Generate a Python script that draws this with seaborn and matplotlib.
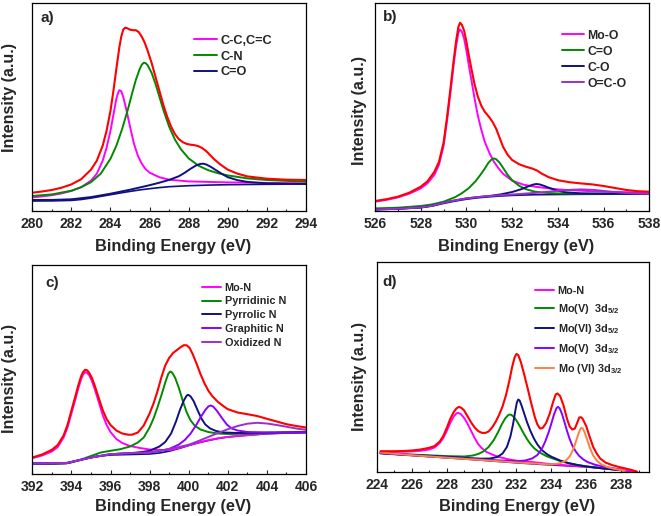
import matplotlib
matplotlib.use("Agg")
import matplotlib.pyplot as plt
import seaborn as sns
import pandas as pd
from matplotlib.ticker import MultipleLocator

# intensities (arbitrary units, height above the frame)

# a) C 1s
A_ENVELOPE = [(280, 18), (280.5, 19.2), (281, 20.7), (281.5, 23), (282, 26.3), (282.5, 31.5), (283, 41),
              (283.3, 50), (283.6, 65), (283.8, 80), (284, 100), (284.15, 120), (284.3, 142), (284.45, 163),
              (284.55, 174), (284.65, 181), (284.75, 183), (284.85, 182.5), (285, 181), (285.15, 180.5),
              (285.3, 180.5), (285.45, 178.5), (285.6, 174), (285.75, 168), (285.9, 160), (286.1, 148),
              (286.3, 134), (286.5, 120), (286.7, 106), (286.9, 94), (287.1, 84), (287.3, 76.5), (287.5, 71.5),
              (287.7, 68.5), (287.9, 66.8), (288.1, 66), (288.3, 65.5), (288.5, 64.5), (288.7, 62.5),
              (288.9, 59.5), (289.1, 55.5), (289.3, 51.5), (289.6, 46.5), (290, 41), (290.5, 37), (291, 34.3),
              (292, 32), (293, 31), (294, 30.7)]
A_CC = [(280, 13.3), (280.5, 14.3), (281, 15.5), (281.5, 17.3), (282, 19.8), (282.5, 23.5), (283, 30),
        (283.3, 37), (283.6, 50), (283.8, 63), (284, 80), (284.15, 96), (284.3, 112), (284.4, 118.5),
        (284.45, 120.5), (284.55, 119.5), (284.65, 114), (284.8, 102), (285, 84), (285.2, 67), (285.4, 55),
        (285.6, 47), (285.8, 41.5), (286, 38), (286.5, 33.5), (287, 31), (288, 29.3), (290, 28.3), (294, 27.3)]
A_CN = [(280, 14.7), (281, 16.3), (282, 20), (282.5, 23.5), (283, 28.5), (283.5, 37), (284, 52), (284.3, 65),
        (284.6, 82), (284.9, 102), (285.1, 117), (285.3, 131), (285.5, 142), (285.6, 146), (285.7, 148),
        (285.8, 147.5), (285.9, 145.5), (286.1, 138), (286.3, 127), (286.5, 114), (286.7, 101), (287, 84),
        (287.3, 71), (287.6, 61.5), (288, 52.3), (288.5, 45), (289, 40.5), (289.5, 37.5), (290, 35.3),
        (291, 32.3), (292, 30.7), (294, 29)]
A_CO = [(280, 10.7), (281, 10.8), (282, 11.4), (283, 13.6), (284, 17), (285, 21), (286, 25.5), (286.5, 28),
        (287, 30.8), (287.5, 34.5), (287.8, 38), (288.1, 42), (288.4, 45.5), (288.6, 46.8), (288.75, 47),
        (288.9, 46.2), (289.1, 44.2), (289.4, 40.5), (289.7, 36.8), (290, 33.5), (290.5, 30.5), (291, 28.8),
        (292, 27.3), (294, 26.7)]
A_BASE = [(280, 9.7), (281, 9.8), (282, 10.3), (282.5, 11.2), (283, 12.6), (283.5, 14.3), (284, 16),
          (284.5, 17.7), (285, 19.3), (285.5, 20.8), (286, 22), (286.5, 23.1), (287, 24), (288, 25),
          (289, 25.6), (290, 26), (292, 26.4), (294, 26.7)]

# b) O 1s
B_ENVELOPE = [(526, 9.7), (526.5, 11.5), (527, 14), (527.5, 18), (528, 24), (528.3, 29.5), (528.6, 39),
              (528.8, 49), (529, 68), (529.15, 93), (529.3, 122), (529.45, 152), (529.55, 170), (529.65, 184),
              (529.72, 188), (529.8, 186), (529.9, 180), (530, 169), (530.1, 156), (530.2, 144), (530.35, 127),
              (530.5, 114), (530.65, 105), (530.8, 99), (531, 93.5), (531.15, 88.5), (531.3, 82), (531.45, 73),
              (531.6, 64), (531.8, 56), (532, 50.7), (532.3, 46.5), (532.6, 44), (532.9, 42), (533.1, 40),
              (533.3, 37), (533.6, 33.5), (534, 30.5), (534.5, 28.5), (535, 27.3), (535.5, 26.3), (536, 24.7),
              (536.5, 22.7), (537, 20.7), (537.5, 19.5), (538, 19)]
B_MOO = [(526, 9), (526.5, 10.8), (527, 13.3), (527.5, 17), (528, 22.3), (528.3, 27.5), (528.6, 36),
         (528.8, 46), (529, 65), (529.15, 90), (529.3, 118), (529.45, 148), (529.55, 165), (529.65, 178),
         (529.72, 181.3), (529.8, 179), (529.9, 172), (530, 160), (530.1, 146), (530.2, 133), (530.35, 113),
         (530.5, 95), (530.65, 81), (530.8, 69), (531, 58), (531.2, 49), (531.4, 42.5), (531.6, 37), (532, 30),
         (532.5, 26), (533, 24), (534, 21.3), (535, 20), (536, 19), (538, 18)]
B_C_DO = [(526, 2.3), (527, 3), (528, 4.7), (528.5, 6.3), (529, 9), (529.5, 13.5), (529.8, 17.5), (530.1, 22.5),
          (530.4, 29.5), (530.6, 35.5), (530.8, 42), (530.95, 47.5), (531.1, 51.3), (531.2, 52.3), (531.3, 51.5),
          (531.45, 48), (531.6, 43), (531.8, 36), (532, 30.5), (532.3, 25), (532.6, 21.5), (533, 19),
          (533.5, 17.8), (534, 17.3), (538, 16.7)]
B_C_O = [(526, 1.3), (527, 2), (528, 3.3), (528.5, 5), (529, 8), (529.5, 10.3), (530, 12.3), (530.5, 13.6),
         (531, 14.7), (531.5, 16.3), (532, 18.7), (532.4, 21.5), (532.7, 24.3), (532.9, 26), (533.05, 26.7),
         (533.2, 26.3), (533.4, 24.8), (533.6, 23), (533.9, 20.5), (534.3, 18.5), (535, 17.3), (536, 16.9),
         (538, 16.7)]
B_OCO = [(526, 1.3), (527, 2), (528, 3.3), (528.5, 5), (529, 8), (529.5, 10.3), (530, 12.2), (530.5, 13.6),
         (531, 14.6), (531.5, 15.5), (532, 16.2), (532.5, 17), (533, 17.8), (533.5, 18.8), (534, 19.9),
         (534.5, 20.8), (535, 21.3), (535.5, 20.9), (536, 19.8), (536.5, 18.5), (537, 17.6), (538, 16.8)]
B_BASE = [(526, 1), (527, 1.7), (528, 3), (528.5, 4.7), (529, 7.3), (529.5, 9.6), (530, 11.5), (530.5, 12.9),
          (531, 13.9), (531.5, 14.7), (532, 15.3), (533, 16), (535, 16.4), (538, 16.7)]

# c) N 1s
C_ENVELOPE = [(392, 16), (392.5, 19), (393, 23.7), (393.3, 28.5), (393.6, 38), (393.8, 48.5), (394, 63),
              (394.2, 77), (394.35, 88), (394.5, 97.5), (394.6, 101.5), (394.7, 103.7), (394.8, 103.3),
              (394.9, 101), (395.05, 95.5), (395.2, 87.5), (395.4, 75.5), (395.6, 63.5), (395.8, 54.5),
              (396, 48.5), (396.3, 43), (396.6, 40), (396.9, 38.8), (397.1, 38.8), (397.4, 41), (397.7, 48),
              (398, 60), (398.2, 70), (398.4, 82), (398.6, 96), (398.8, 108), (399, 115.5), (399.2, 120.5),
              (399.4, 123.5), (399.6, 126.5), (399.75, 128.3), (399.9, 128.2), (400.05, 125.5), (400.2, 119.5),
              (400.4, 110), (400.6, 99.5), (400.8, 90.5), (401, 83), (401.2, 77.5), (401.5, 71.5), (401.8, 67),
              (402, 64.3), (402.5, 61), (403, 59.3), (403.5, 57.5), (404, 54.7), (404.5, 52), (405, 49.3),
              (405.5, 47.5), (406, 46)]
C_MON = [(392, 15.3), (392.5, 18), (393, 22), (393.3, 26.5), (393.6, 36), (393.8, 46), (394, 60), (394.2, 74),
         (394.35, 85), (394.5, 94.5), (394.6, 99), (394.7, 101.3), (394.8, 100.8), (394.9, 98.5), (395.05, 92.5),
         (395.2, 84), (395.4, 71.5), (395.6, 58.5), (395.8, 48.5), (396, 41.5), (396.3, 34.5), (396.6, 30.5),
         (397, 27.5), (397.5, 25.5), (398, 24), (399, 23.3), (399.5, 25.5), (400, 28.3), (400.5, 31),
         (401, 33.3), (401.5, 35.2), (402, 36.6), (403, 38.3), (404, 40), (405, 40.7), (406, 41)]
C_PYRIDINIC = [(392, 10), (393, 10), (393.8, 10.6), (394.5, 14), (395, 17.5), (395.5, 21), (396, 22.7),
               (396.5, 24.3), (397, 27), (397.4, 31), (397.7, 36), (398, 46), (398.2, 55), (398.4, 66),
               (398.6, 78), (398.8, 91), (398.95, 99.5), (399.05, 102), (399.15, 101), (399.3, 96), (399.5, 85.5),
               (399.7, 72.5), (399.9, 61), (400.1, 53), (400.3, 48), (400.6, 44), (401, 41.5), (401.5, 40),
               (402, 39.5), (403, 39.8), (404, 40.3), (406, 41.3)]
C_PYRROLIC = [(392, 10), (393.8, 10.6), (395, 16), (396, 19.3), (397, 20.3), (397.5, 21.2), (398, 22.7),
              (398.5, 27), (398.8, 31.5), (399.1, 40), (399.35, 52), (399.55, 63.5), (399.75, 73), (399.9, 78),
              (399.98, 78.7), (400.1, 77), (400.25, 72.5), (400.45, 63.5), (400.65, 55), (400.85, 49),
              (401.1, 45), (401.4, 42.5), (401.8, 41), (402.5, 40.5), (404, 41), (406, 41.3)]
C_GRAPHITIC = [(392, 10), (393.8, 10.6), (395, 16), (396, 19.3), (397, 20.3), (398, 21), (398.5, 22.5),
               (399, 24.5), (399.5, 29), (399.8, 33.5), (400.1, 40), (400.4, 49), (400.65, 57.5), (400.85, 63.5),
               (401, 67), (401.12, 68), (401.25, 67), (401.45, 62.5), (401.7, 55.5), (401.95, 49), (402.2, 45),
               (402.5, 43), (403, 41.5), (404, 40.8), (406, 41.3)]
C_OXIDIZED = [(392, 10), (393.8, 10.6), (395, 16), (396, 19.3), (397, 20.3), (398, 21), (399, 24.5),
              (399.5, 26.5), (400, 28.7), (400.5, 32.5), (401, 36.5), (401.5, 40.5), (402, 44.3), (402.5, 47.5),
              (403, 49.8), (403.5, 50.7), (404, 50), (404.5, 48.5), (405, 46.8), (405.5, 45), (406, 43.7)]
C_BASE = [(392, 9.5), (393, 9.5), (393.7, 9.8), (394, 11), (394.3, 12.7), (394.6, 14.3), (395, 16),
          (395.5, 17.5), (396, 18.5), (397, 19), (398, 19.5), (398.5, 20.5), (399, 22.3), (399.5, 25), (400, 28),
          (400.5, 30.7), (401, 33), (401.5, 35), (402, 36.5), (402.5, 37.5), (403, 38.3), (404, 39.7),
          (405, 40.5), (406, 41)]

# d) Mo 3d
D_ENVELOPE = [(224.2, 20.8), (225, 20.8), (225.5, 21), (226, 21.5), (226.5, 22.5), (227, 24.2), (227.3, 26),
              (227.6, 30.5), (227.8, 36), (228, 44), (228.2, 53), (228.4, 60), (228.55, 63.5), (228.7, 65.2),
              (228.85, 64), (229, 61.5), (229.2, 55.5), (229.4, 49.5), (229.6, 44.5), (229.8, 41), (230, 39.2),
              (230.2, 39), (230.4, 40.5), (230.6, 44.5), (230.8, 50), (231, 57), (231.2, 65.5), (231.4, 77),
              (231.6, 92), (231.75, 105), (231.9, 115), (232, 118), (232.1, 117), (232.25, 110), (232.45, 97),
              (232.65, 83), (232.85, 68.5), (233.05, 55), (233.2, 47.5), (233.35, 43.5), (233.5, 44),
              (233.7, 49), (233.9, 58), (234.1, 70), (234.25, 77.5), (234.35, 78.5), (234.5, 76), (234.7, 66.5),
              (234.9, 53), (235.05, 45.5), (235.2, 42.5), (235.35, 43.5), (235.5, 50), (235.6, 54.5),
              (235.7, 54.8), (235.8, 53), (236, 45.8), (236.2, 35), (236.4, 25), (236.6, 18.5), (236.8, 13.5),
              (237.1, 9.5), (237.5, 6.8), (238, 4.5), (238.5, 2.5), (238.9, 0.5)]
D_MON = [(224.2, 19.8), (225, 20), (226, 20.5), (226.5, 21.2), (227, 22.5), (227.3, 24.5), (227.6, 29),
         (227.8, 34), (228, 41), (228.2, 49), (228.4, 55.5), (228.55, 58.5), (228.65, 59.2), (228.8, 58),
         (229, 54), (229.2, 48), (229.4, 41), (229.6, 34), (229.8, 28), (230, 24), (230.3, 19.8), (230.7, 16.8),
         (231, 15), (231.5, 12.8), (232, 11.3), (233, 9.8), (234, 7.8), (235, 6.5), (236, 5.2), (237, 3.5),
         (238, 2), (238.9, 0.3)]
D_MOV_52 = [(224.2, 19), (225, 18.3), (226, 17.5), (227, 16.7), (228, 15.9), (229, 15.5), (229.5, 16.5),
            (229.8, 18), (230.1, 20.5), (230.4, 25), (230.7, 32), (230.95, 40), (231.15, 47.5), (231.35, 53.5),
            (231.5, 56.5), (231.6, 57.5), (231.7, 57.2), (231.85, 55), (232, 51.5), (232.2, 45.5), (232.4, 39),
            (232.6, 33), (232.8, 28), (233, 24), (233.3, 19.8), (233.7, 16), (234, 14), (234.5, 11),
            (235, 8.8), (235.5, 7), (236, 5.6), (237, 3.5), (238, 1.8)]
D_MOVI_52 = [(224.2, 19), (225, 18), (226, 17), (227, 16.1), (228, 15.2), (229, 14.2), (230, 13.3),
             (230.5, 13.5), (230.9, 15), (231.2, 18.5), (231.45, 25), (231.65, 35.5), (231.8, 47.5),
             (231.92, 60), (232.02, 69.5), (232.1, 72.5), (232.18, 71.5), (232.3, 66), (232.45, 58), (232.6, 50),
             (232.8, 41), (233, 33.5), (233.2, 27.5), (233.45, 22), (233.75, 17.8), (234, 15.3), (234.5, 11.5),
             (235, 8.8), (235.5, 7), (236, 5.6), (237, 3.5), (238, 1.8)]
D_MOV_32 = [(224.2, 19), (226, 16.8), (228, 14.5), (230, 12.5), (231, 11.6), (232, 10.8), (232.5, 11.5),
            (232.9, 13.5), (233.2, 17), (233.45, 23), (233.65, 30.5), (233.85, 40), (234, 48.5), (234.15, 57.5),
            (234.3, 64), (234.38, 65.2), (234.48, 63.5), (234.6, 58.5), (234.75, 50), (234.9, 41), (235.05, 33),
            (235.2, 26.5), (235.4, 20.5), (235.6, 16), (235.85, 12.3), (236.1, 9.8), (236.5, 7.3), (237, 5.2),
            (237.5, 3.8), (238, 2.5)]
D_MOVI_32 = [(224.2, 19.5), (226, 16.8), (228, 14.3), (230, 12), (232, 9.5), (233, 8.5), (234, 7.5),
             (234.5, 8.8), (234.8, 11), (235.05, 15.5), (235.25, 22.5), (235.4, 30), (235.55, 38),
             (235.65, 42.5), (235.72, 44.2), (235.8, 43.5), (235.9, 40), (236.05, 32.5), (236.2, 24.5),
             (236.4, 16.5), (236.6, 11.5), (236.85, 7.8), (237.2, 5), (237.6, 3.2), (238.2, 1.2)]
D_BASE = [(224.2, 18.5), (226, 16.5), (228, 14.2), (230, 11.8), (232, 9.2), (234, 7), (236, 5.2), (237, 3.8),
          (238.5, 0.8)]

RED, MAGENTA, GREEN, NAVY = "#ff0000", "#ff00ff", "#008a00", "#101080"
VIOLET, PURPLE, ORANGE = "#8a00ff", "#9a30cc", "#ff8040"

sns.set_style("white")
plt.rcParams["font.family"] = ["Liberation Sans", "DejaVu Sans"]
plt.rcParams["font.weight"] = "bold"
plt.rcParams["mathtext.fontset"] = "custom"
plt.rcParams["mathtext.rm"] = "Liberation Sans:bold"
plt.rcParams["mathtext.it"] = "Liberation Sans:bold"
plt.rcParams["mathtext.bf"] = "Liberation Sans:bold"

W, H = 661, 516
fig = plt.figure(figsize=(W / 100, H / 100), dpi=100)


def add_panel(left, top, right, bottom):
    return fig.add_axes([left / W, 1 - bottom / H, (right - left) / W, (bottom - top) / H])


def draw(ax, pts, color, label=None, lw=1.4):
    df = pd.DataFrame(pts, columns=["be", "counts"])
    sns.lineplot(data=df, x="be", y="counts", color=color, lw=lw, ax=ax, estimator=None)
    line = ax.lines[-1]
    line.set_solid_joinstyle("round")
    if label:
        line.set_label(label)
    return line


panels = [
    # frame (px), xlim, background, envelope, components, legend anchor, legend size, spacing,
    # tag, tag pos, ylabel pos, xlabel top
    ((32.3, 2.7, 306, 210.7), (280, 294), A_BASE, A_ENVELOPE,
     [(A_CC, MAGENTA, "C-C,C=C"), (A_CN, GREEN, "C-N"), (A_CO, NAVY, "C=O")],
     (0.59, 0.846), 9.2, 0.3, "a)", (0.03, 0.925), (-0.056, 0.545), -0.136),
    ((375, 2.7, 649.3, 210.7), (526, 538), B_BASE, B_ENVELOPE,
     [(B_MOO, MAGENTA, "Mo-O"), (B_C_DO, GREEN, "C=O"), (B_C_O, NAVY, "C-O"), (B_OCO, PURPLE, "O=C-O")],
     (0.68, 0.871), 8.8, 0.33, "b)", (0.03, 0.93), (-0.029, 0.484), -0.136),
    ((32.3, 264.5, 306, 473.5), (392, 406), C_BASE, C_ENVELOPE,
     [(C_MON, MAGENTA, "Mo-N"), (C_PYRIDINIC, GREEN, "Pyrridinic N"), (C_PYRROLIC, NAVY, "Pyrrolic N"),
      (C_GRAPHITIC, VIOLET, "Graphitic N"), (C_OXIDIZED, PURPLE, "Oxidized N")],
     (0.62, 0.913), 7.8, 0.35, "c)", (0.046, 0.91), (-0.056, 0.454), -0.123),
    ((377, 262, 649, 472), (224, 239.6), D_BASE, D_ENVELOPE,
     [(D_MON, MAGENTA, "Mo-N"), (D_MOV_52, GREEN, r"Mo(V)  3d$_{5/2}$"), (D_MOVI_52, NAVY, r"Mo(VI) 3d$_{5/2}$"),
      (D_MOV_32, VIOLET, r"Mo(V)  3d$_{3/2}$"), (D_MOVI_32, ORANGE, r"Mo (VI) 3d$_{3/2}$")],
     (0.58, 0.885), 7.8, 0.55, "d)", (0.021, 0.905), (-0.037, 0.456), -0.128),
]

for (rect, xlim, base, env, comps, leg_xy, leg_fs, leg_sp, tag, tag_xy,
     ylab_xy, xlab_y) in panels:
    ax = add_panel(*rect)
    draw(ax, base, NAVY, lw=1.2)
    handles = []
    for pts, color, label in comps:
        handles.append(draw(ax, pts, color, label))
    draw(ax, env, RED, lw=1.5)

    ax.set_xlim(*xlim)
    ax.set_ylim(0, rect[3] - rect[1])
    ax.xaxis.set_major_locator(MultipleLocator(2))
    ax.xaxis.set_minor_locator(MultipleLocator(1))
    ax.set_yticks([])
    ax.tick_params(axis="x", which="major", direction="in", length=3, width=0.8,
                   labelsize=10, pad=4.5, bottom=True)
    ax.tick_params(axis="x", which="minor", direction="in", length=1.8, width=0.8, bottom=True)
    for s in ax.spines.values():
        s.set_color("black")
        s.set_linewidth(0.9)
    for lab in ax.get_xticklabels():
        lab.set_fontweight("bold")

    ax.set_xlabel("Binding Energy (eV)", fontsize=11.8, fontweight="bold")
    ax.xaxis.set_label_coords(0.515, xlab_y)
    ax.set_ylabel("Intensity (a.u.)", fontsize=11.5, fontweight="bold")
    ax.yaxis.set_label_coords(*ylab_xy)
    ax.text(*tag_xy, tag, transform=ax.transAxes, fontsize=11, fontweight="bold",
            ha="left", va="center")

    ax.legend(handles=handles, loc="upper left", bbox_to_anchor=leg_xy, frameon=False,
              prop={"size": leg_fs, "weight": "bold"}, borderpad=0, borderaxespad=0,
              handlelength=1.8, handletextpad=0.3, labelspacing=leg_sp)

fig.savefig("out.png", dpi=100)
plt.close(fig)
